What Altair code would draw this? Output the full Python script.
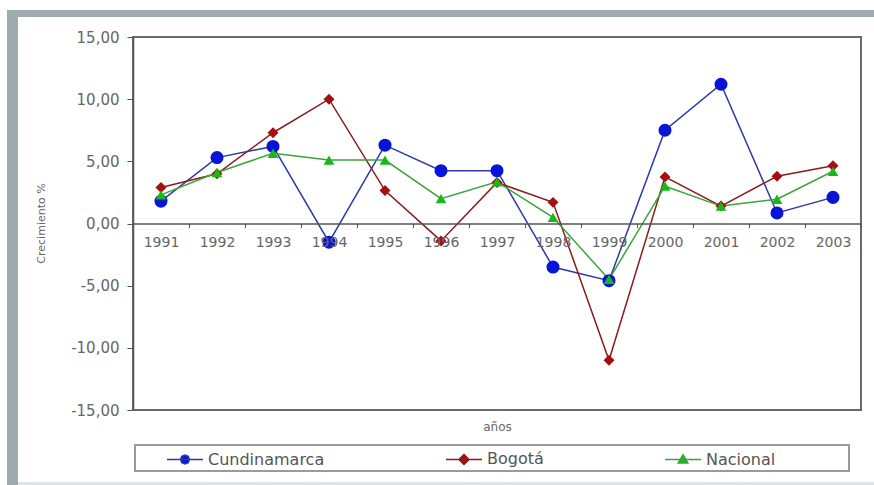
import altair as alt
import pandas as pd

years = [str(y) for y in range(1991, 2004)]
series_names = ["Cundinamarca", "Bogotá", "Nacional"]
cundinamarca = [1.8, 5.3, 6.2, -1.5, 6.3, 4.25, 4.25, -3.5, -4.6, 7.5, 11.2, 0.85, 2.1]
bogota = [2.9, 4.0, 7.3, 10.0, 2.65, -1.4, 3.3, 1.7, -11.0, 3.75, 1.4, 3.8, 4.65]
nacional = [2.3, 4.1, 5.65, 5.1, 5.1, 2.0, 3.35, 0.5, -4.5, 3.0, 1.4, 1.95, 4.2]
y_ticks = [-15, -10, -5, 0, 5, 10, 15]

line_colors = ["#2b3aa8", "#8a1c1c", "#3aa63a"]
marker_colors = ["#0a14d8", "#a50f0f", "#18b818"]
marker_shapes = ["circle", "diamond", "triangle-up"]
marker_sizes = [170, 120, 115]
legend_shapes = [
    "M-1,0H1M-0.25,0L-0.18,-0.18L0,-0.25L0.18,-0.18L0.25,0L0.18,0.18L0,0.25L-0.18,0.18Z",
    "M-1,0H1M0,-0.28L0.28,0L0,0.28L-0.28,0Z",
    "M-1,0H1M0,-0.27L0.27,0.2L-0.27,0.2Z",
]

rows = []
for name, vals in zip(series_names, [cundinamarca, bogota, nacional]):
    for yr, v in zip(years, vals):
        rows.append({"year": yr, "serie": name, "value": v})
df = pd.DataFrame(rows)

FONT = "DejaVu Sans"
W, H = 728, 373


def pick(values):
    return (
        "datum.value === '" + series_names[0] + "' ? '" + values[0] + "' : "
        "datum.value === '" + series_names[1] + "' ? '" + values[1] + "' : '" + values[2] + "'"
    )


def deco(x1, x2, y1, y2, **mk):
    return alt.Chart(alt.Data(values=[{}])).mark_rect(**mk).encode(
        x=alt.value(x1), x2=alt.value(x2), y=alt.value(y1), y2=alt.value(y2)
    )


top_bar = deco(-126, 741, -27, -20, fill="#9eacb0")
left_bar = deco(-126, -115, -27, 448, fill="#9eacb0")
bottom_line = deco(-115, 741, 445, 448, fill="#dfe5e6")
frame = deco(0, W, 0, H, fillOpacity=0, stroke="#6a6a6a", strokeWidth=2)
legend_box = deco(2, 716, 408, 434, fillOpacity=0, stroke="#9a9a9a", strokeWidth=2)

x_enc = alt.X(
    "year:N",
    sort=years,
    bandPosition=0.5,
    scale=alt.Scale(type="band", domain=years, paddingInner=0, paddingOuter=0),
    axis=alt.Axis(
        title="años", offset=-186.5, labelAngle=0, tickBand="extent", tickSize=4,
        domainColor="#555555", domainWidth=1.5, tickColor="#555555",
        labelColor="#666666", labelFont=FONT, labelFontSize=14, labelPadding=8,
        titleY=198, titleFont=FONT, titleFontSize=12, titleFontWeight="normal",
        titleColor="#666666", zindex=1,
    ),
)
y_enc = alt.Y(
    "value:Q",
    scale=alt.Scale(domain=[-15, 15], nice=False),
    axis=alt.Axis(
        values=y_ticks,
        labelExpr="replace(replace(format(datum.value, '.2f'), '.', ','), '\u2212', '-')",
        title="Crecimiento %", grid=False, tickSize=6, labelPadding=8,
        domainColor="#555555", domainWidth=1.5, tickColor="#555555",
        labelColor="#666666", labelFont=FONT, labelFontSize=15,
        titleX=-92, titleY=186, titleAlign="center", titleBaseline="middle",
        titleFont=FONT, titleFontSize=11, titleFontWeight="normal",
        titleColor="#666666", zindex=1,
    ),
)

lines = alt.Chart(df).mark_line(strokeWidth=1.5).encode(
    x=x_enc,
    y=y_enc,
    color=alt.Color(
        "serie:N",
        scale=alt.Scale(domain=series_names, range=line_colors),
        legend=alt.Legend(
            title=None, orient="none", legendX=33, legendY=403,
            direction="horizontal", symbolSize=1296, symbolStrokeWidth=1.5,
            symbolType=alt.expr(pick(legend_shapes)),
            symbolFillColor=alt.expr(pick(marker_colors)),
            labelFont=FONT, labelFontSize=16, labelColor="#555555",
            columnPadding=118, labelOffset=4, zindex=1,
        ),
    ),
    order=alt.Order("year:N"),
)

point_layers = []
for name, col, shp, sz in zip(series_names, marker_colors, marker_shapes, marker_sizes):
    point_layers.append(
        alt.Chart(df).transform_filter(alt.datum.serie == name)
        .mark_point(filled=True, opacity=1, fill=col, shape=shp, size=sz, strokeWidth=0)
        .encode(x=x_enc, y=y_enc)
    )

chart = alt.layer(
    top_bar, left_bar, bottom_line, frame, legend_box, lines, *point_layers
).properties(
    width=W, height=H,
    autosize=alt.AutoSizeParams(type="none"),
    padding={"left": 133, "top": 37, "right": 13, "bottom": 75},
    background="#ffffff",
).configure_view(strokeWidth=0)

chart.save("out.html", embed_options={"renderer": "svg", "actions": False})
